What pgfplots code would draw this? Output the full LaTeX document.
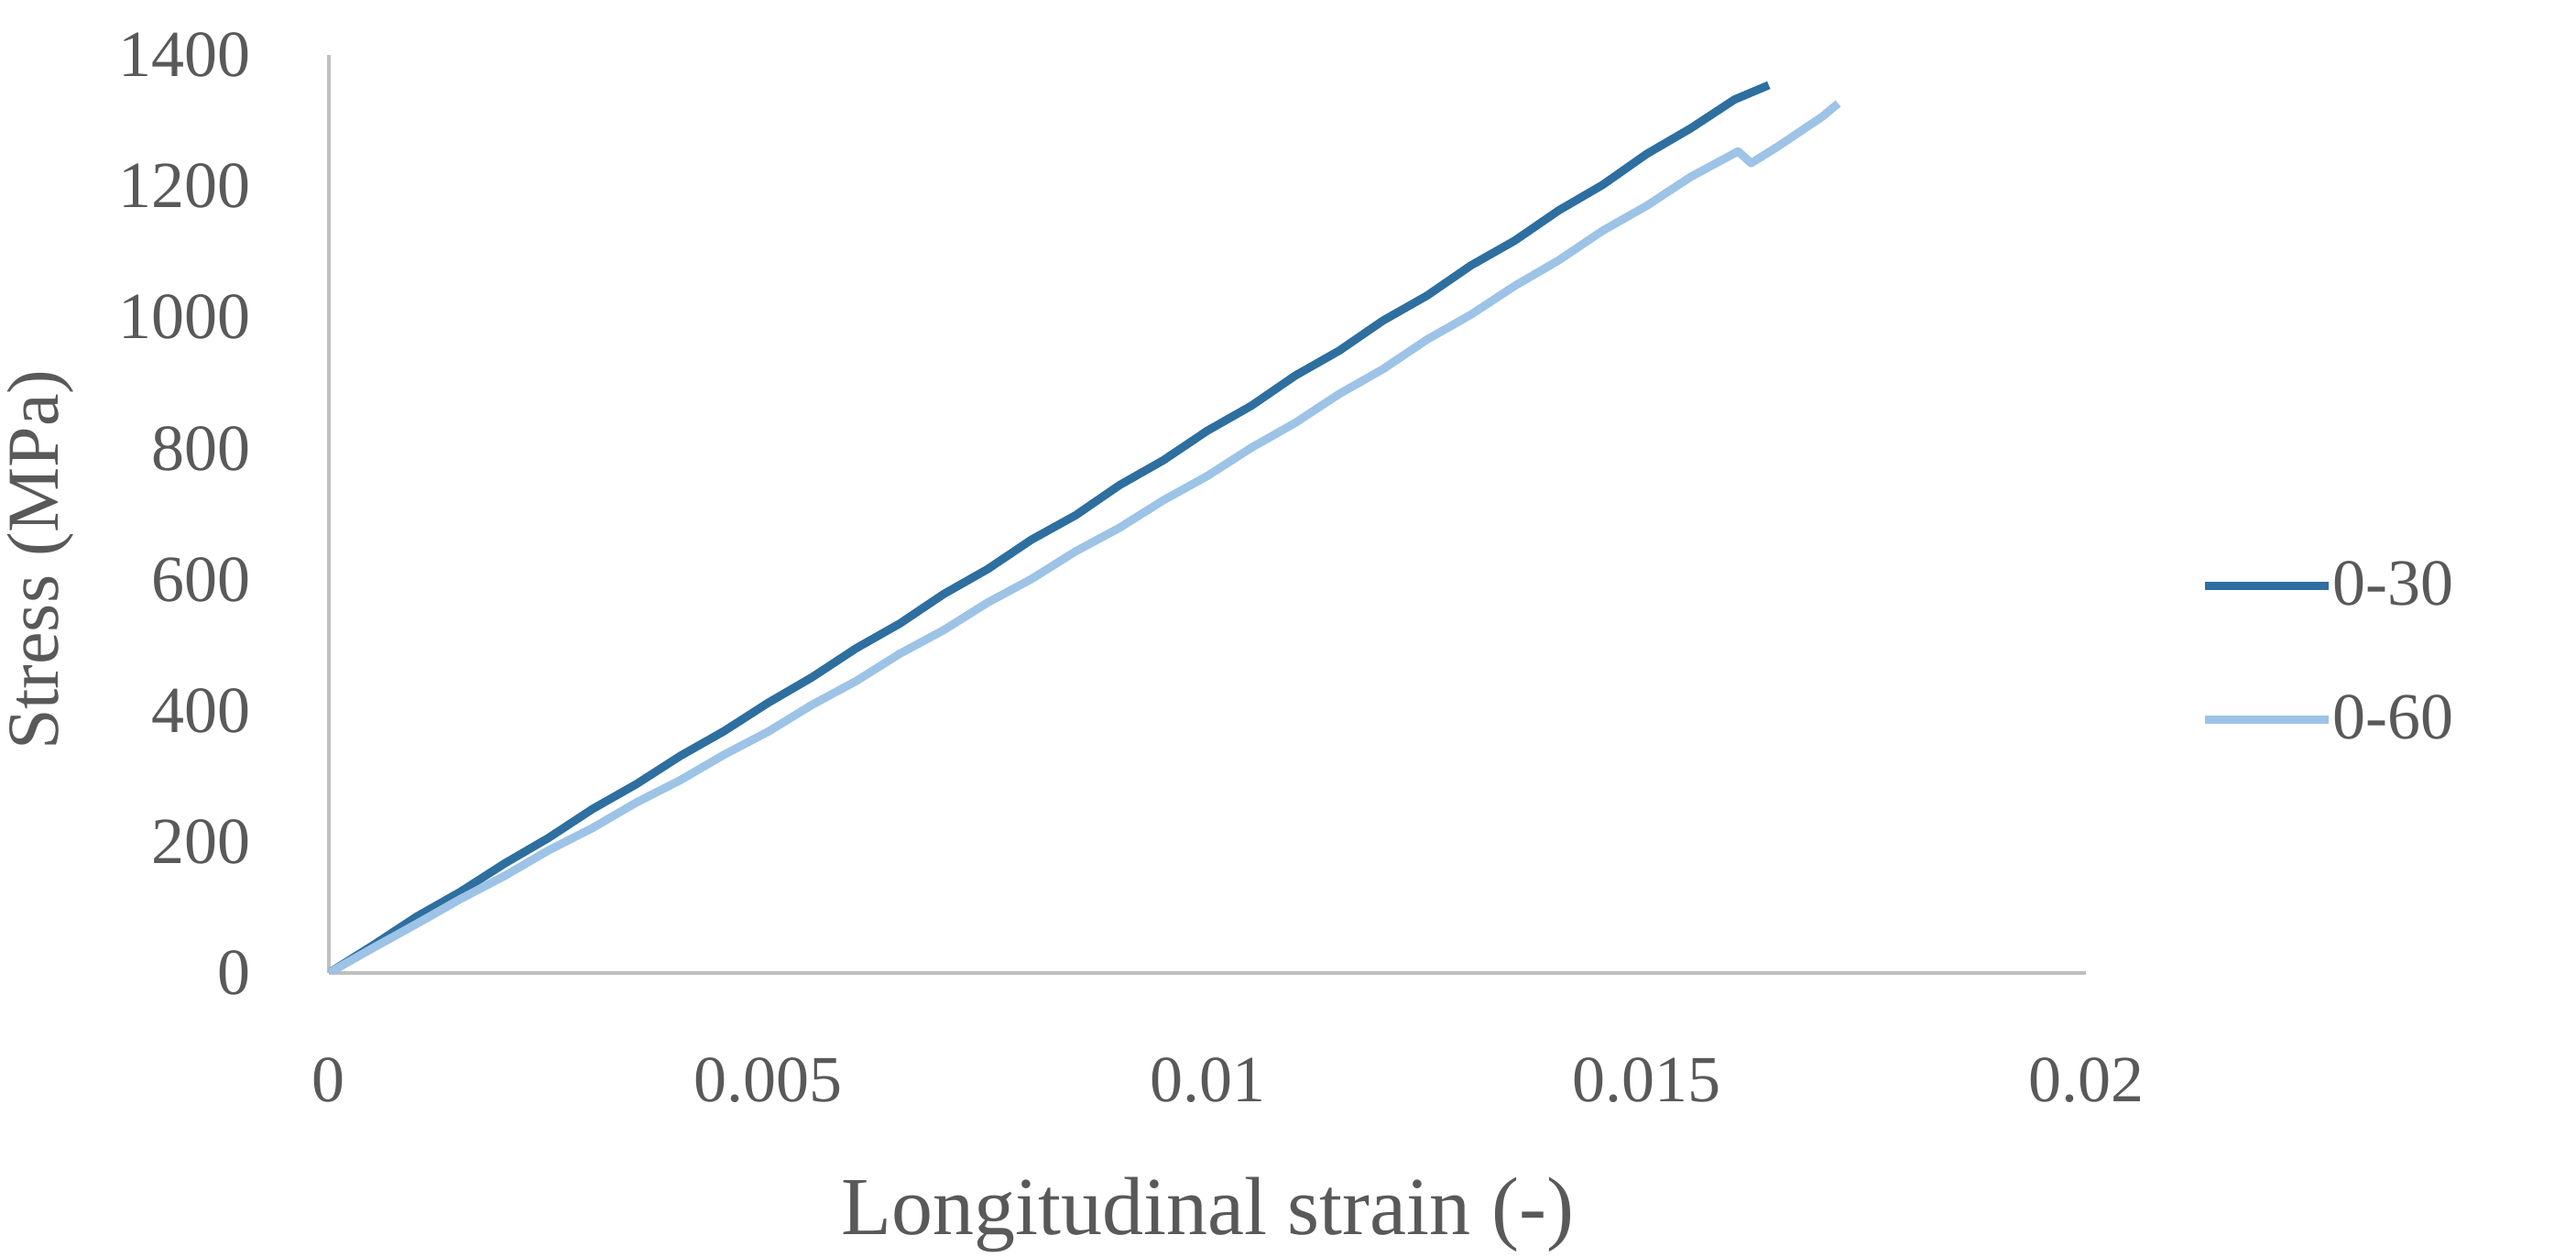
\documentclass[border=0pt]{standalone}
\usepackage{fontspec}
\setmainfont{Liberation Serif}
\usepackage{pgfplots}
\pgfplotsset{compat=1.18}
\usepackage{pgfplotstable}

\definecolor{txtgray}{HTML}{595959}
\definecolor{axgray}{HTML}{BFBFBF}
\definecolor{darkblue}{RGB}{46,111,160}
\definecolor{lightblue}{RGB}{157,195,230}

% 1 px of the reference = 0.25pt
\pgfplotstableread{
x y
0 0
0.0005 42
0.001 86
0.0015 124
0.002 167
0.0025 206
0.003 250
0.0035 288
0.004 331
0.0045 369
0.005 412
0.0055 451
0.006 495
0.0065 533
0.007 578
0.0075 616
0.008 661
0.0085 698
0.009 744
0.0095 782
0.010 827
0.0105 865
0.011 911
0.0115 949
0.012 995
0.0125 1033
0.013 1079
0.0135 1117
0.014 1163
0.0145 1202
0.015 1249
0.0155 1288
0.016 1332
0.01639 1354
}\serA

\pgfplotstableread{
x y
0 0
0.0005 38
0.001 75
0.0015 113
0.002 148
0.0025 187
0.003 221
0.0035 260
0.004 294
0.0045 333
0.005 368
0.0055 409
0.006 445
0.0065 487
0.007 523
0.0075 565
0.008 601
0.0085 643
0.009 679
0.0095 721
0.010 758
0.0105 801
0.011 839
0.0115 883
0.012 921
0.0125 966
0.013 1004
0.0135 1048
0.014 1087
0.0145 1132
0.015 1170
0.0155 1214
0.01604 1253
0.01619 1235
0.0165 1261
0.017 1306
0.01718 1326
}\serB

\begin{document}
\begin{tikzpicture}
\useasboundingbox (-89.75pt,-77.25pt) rectangle (613.25pt,265.5pt);
\begin{axis}[
  scale only axis,
  width=479.5pt, height=250.5pt,
  xmin=0, xmax=0.02, ymin=0, ymax=1400,
  scaled x ticks=false,
  axis lines=left,
  axis line style={draw=axgray, line width=1pt, -},
  tick style={draw=none},
  xtick={0,0.005,0.01,0.015,0.02},
  xticklabels={0,0.005,0.01,0.015,0.02},
  ytick={0,200,400,600,800,1000,1200,1400},
  yticklabels={0,200,400,600,800,1000,1200,1400},
  ticklabel style={font=\fontsize{18}{22}\selectfont, text=txtgray, inner sep=0pt},
  xticklabel style={anchor=north, yshift=-20.75pt},
  yticklabel style={anchor=east, xshift=-19pt},
  xlabel={Longitudinal strain (-)},
  ylabel={Stress (MPa)},
  xlabel style={font=\fontsize{22.5}{26}\selectfont, text=txtgray,
    at={(axis description cs:0.5,0)}, anchor=center, yshift=-66pt},
  ylabel style={font=\fontsize{20}{24}\selectfont, text=txtgray,
    at={(axis description cs:-0.1642,0.45)}, anchor=center},
  legend style={at={(axis description cs:1.0652,0.349)}, anchor=west,
    draw=none, fill=none, inner sep=0pt,
    font=\fontsize{18}{22}\selectfont, text=txtgray,
    row sep=23pt,
    nodes={inner sep=0pt, anchor=west}},
  legend cell align=left,
  legend image code/.code={\draw[#1] (0pt,0pt) -- (33.75pt,0pt);},
  every axis legend/.append style={/tikz/every even column/.append style={column sep=2pt}},
]
\addplot[darkblue, line width=2.25pt, line join=round] table[x=x,y=y] {\serA};
\addlegendentry{0-30}
\addplot[lightblue, line width=2.25pt, line join=round] table[x=x,y=y] {\serB};
\addlegendentry{0-60}
\end{axis}
\end{tikzpicture}
\end{document}
